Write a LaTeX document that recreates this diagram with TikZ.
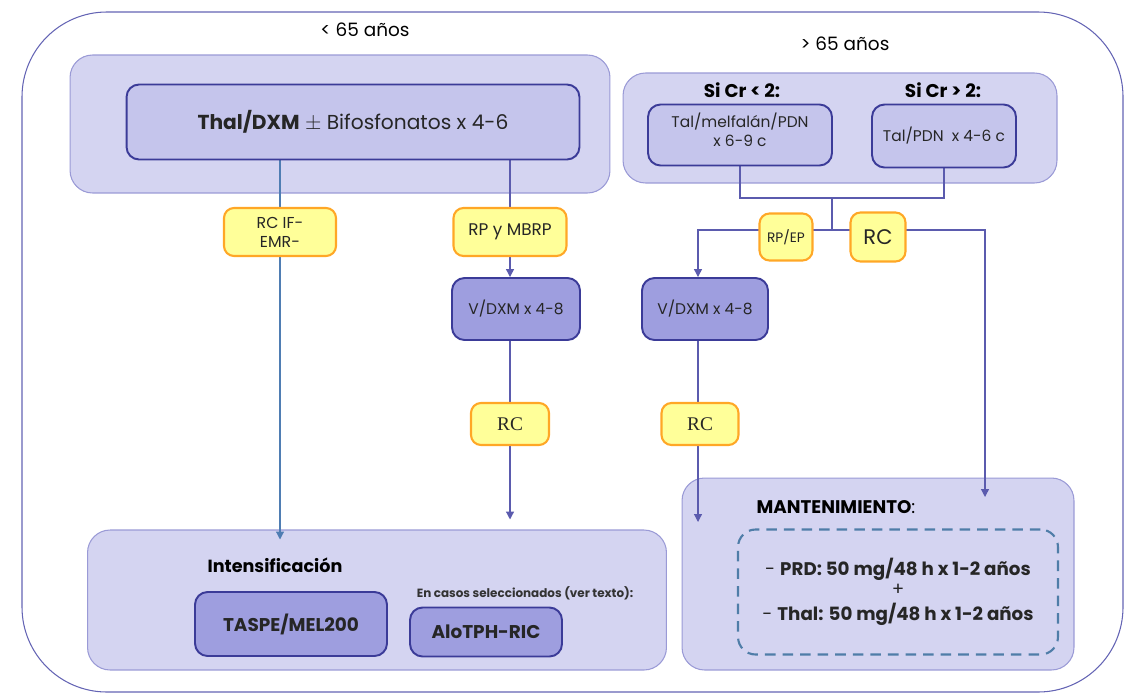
\documentclass[tikz,border=0pt]{standalone}
\usepackage{fontspec}
\setmainfont{Poppins}
\newfontfamily\rcfont{Liberation Serif}
\usetikzlibrary{arrows.meta, positioning, calc}

\definecolor{grpfill}{HTML}{D4D4F1}
\definecolor{grpdraw}{HTML}{9A9AD6}
\definecolor{boxfill}{HTML}{C5C5EC}
\definecolor{darkfill}{HTML}{9E9EDF}
\definecolor{boxdraw}{HTML}{3B3B98}
\definecolor{ylwfill}{HTML}{FFFF99}
\definecolor{ylwdraw}{HTML}{FFA726}
\definecolor{lncol}{HTML}{5B5BAE}
\definecolor{lnblue}{HTML}{4F7DB3}
\definecolor{framecol}{HTML}{6464B4}
\definecolor{dashcol}{HTML}{4F7DA8}

\newcommand{\fs}[1]{\fontsize{#1}{1.2\dimexpr#1pt\relax}\selectfont}

\pgfdeclarelayer{bg}
\pgfdeclarelayer{lines}
\pgfsetlayers{bg,lines,main}

\begin{document}
\begin{tikzpicture}[x=0.02cm, y=-0.02cm, font=\fs{10.5},
  group/.style={draw=grpdraw, fill=grpfill, rounded corners=0.45cm, line width=0.6pt},
  regbox/.style={draw=boxdraw, fill=boxfill, rounded corners=0.25cm, line width=1.1pt, align=center, text=black!85},
  darkbox/.style={regbox, fill=darkfill},
  ylwbox/.style={draw=ylwdraw, fill=ylwfill, rounded corners=0.2cm, line width=1.2pt, align=center, text=black!85},
  ln/.style={draw=lncol, line width=0.7pt},
  lnb/.style={draw=lnblue, line width=0.7pt},
  tip/.tip={Triangle[width=4.5pt,length=4.5pt]}]
\useasboundingbox (0,0) rectangle (1124,693);

% outer frame
\draw[framecol, line width=0.6pt, rounded corners=1.7cm] (22,12) rectangle (1123,692);

% age groups
\node (lt_lbl) at (365,30) {< 65 años};
\node (rt_lbl) at (845,44) {> 65 años};
\begin{pgfonlayer}{bg}
\node[group, minimum width=10.8cm, minimum height=2.76cm] (lt) at (340,124) {};
\node[group, minimum width=8.68cm, minimum height=2.2cm] (rt) at (840,128) {};
\node[group, minimum width=11.58cm, minimum height=2.8cm] (intens) at (377,600) {};
\node[group, minimum width=7.84cm, minimum height=3.84cm] (mant) at (878,574) {};
\end{pgfonlayer}

% induction
\node[regbox, minimum width=9.06cm, minimum height=1.5cm, font=\fs{11.5}] (thal) at (353,122)
  {\textbf{Thal/DXM} $\pm$ Bifosfonatos x 4-6};
\node[font=\fs{10.5}\bfseries] (cr1) at (742,90) {Si Cr < 2:};
\node[font=\fs{10.5}\bfseries] (cr2) at (943,90) {Si Cr > 2:};
\node[regbox, minimum width=3.68cm, minimum height=1.22cm, font=\fs{8.8}, text depth=6pt] (mel) at (740,135)
  {Tal/melfalán/PDN\\x 6-9 c};
\node[regbox, minimum width=2.88cm, minimum height=1.26cm, font=\fs{8.8}] (tpdn) at (944,136)
  {Tal/PDN\ \ x 4-6 c};

% V/DXM
\node[darkbox, minimum width=2.56cm, minimum height=1.24cm, font=\fs{8.8}] (vdl) at (516,309) {V/DXM x 4-8};
\node[darkbox, minimum width=2.52cm, minimum height=1.24cm, font=\fs{8.8}] (vdr) at (705,309) {V/DXM x 4-8};

% intensification
\node[font=\bfseries] (int_lbl) at (275,565) {Intensificación};
\node[darkbox, minimum width=3.84cm, minimum height=1.28cm, font=\fs{10.5}\bfseries] (taspe) at (291,624) {TASPE/MEL200};
\node[font=\fs{6.8}\bfseries, text=black!80] (sel) at (525,593) {En casos seleccionados (ver texto):};
\node[darkbox, minimum width=3.04cm, minimum height=0.98cm, font=\fs{10.5}\bfseries] (alo) at (486,632) {AloTPH-RIC};

% maintenance
\node[font=\fs{10.4}] (mant_lbl) at (836,507) {\textbf{MANTENIMIENTO}:};
\node[draw=dashcol, line width=1.2pt, dash pattern=on 6pt off 4pt, rounded corners=0.35cm,
  minimum width=6.4cm, minimum height=2.5cm, align=center, text=black!85, font=\fs{10.4}] (dash) at (898,592)
  {- \textbf{PRD: 50 mg/48 h x 1-2 años}\\[-1pt] +\\[1.5pt] - \textbf{Thal: 50 mg/48 h x 1-2 años}};

% responses
\node[ylwbox, minimum width=2.24cm, minimum height=0.96cm, font=\fs{9}] (rcif) at (280,232) {RC IF-\\EMR-};
\node[ylwbox, minimum width=2.26cm, minimum height=0.96cm, font=\fs{9.6}] (rpm) at (510,232) {RP y MBRP};
\node[ylwbox, minimum width=1.56cm, minimum height=0.84cm, font=\rcfont\fs{11}] (rcl) at (510,424) {RC};
\node[ylwbox, minimum width=1.06cm, minimum height=0.94cm, font=\fs{7.8}, inner sep=1pt] (rpep) at (786,237) {RP/EP};
\node[ylwbox, minimum width=1.1cm, minimum height=0.98cm, font=\fs{12}] (rcr) at (878,237) {RC};
\node[ylwbox, minimum width=1.54cm, minimum height=0.84cm, font=\rcfont\fs{11}] (rcr2) at (700,424) {RC};

\coordinate (jt) at (832,198);
\coordinate (jb) at (832,230);
\coordinate (ml) at (698,522);
\coordinate (mr) at (985,497);

\begin{pgfonlayer}{lines}
\draw[lnb, -tip] (thal.south -| rcif.center) -- ([yshift=-0.2cm]intens.north -| rcif.center);
\draw[ln, -tip] (thal.south -| rpm.center) -- (vdl.north -| rpm.center);
\draw[ln, -tip] (vdl.south -| rcl.center) -- ([yshift=0.2cm]intens.north -| rcl.center);
\draw[ln] (mel.south) |- (jt) -| (tpdn.south);
\draw[ln] (jt) -- (jb);
\draw[ln, -tip] (jb) -| (vdr.north -| ml);
\draw[ln, -tip] (jb) -| (mr);
\draw[ln, -tip] (vdr.south -| ml) -- (ml);
\end{pgfonlayer}
\end{tikzpicture}
\end{document}
